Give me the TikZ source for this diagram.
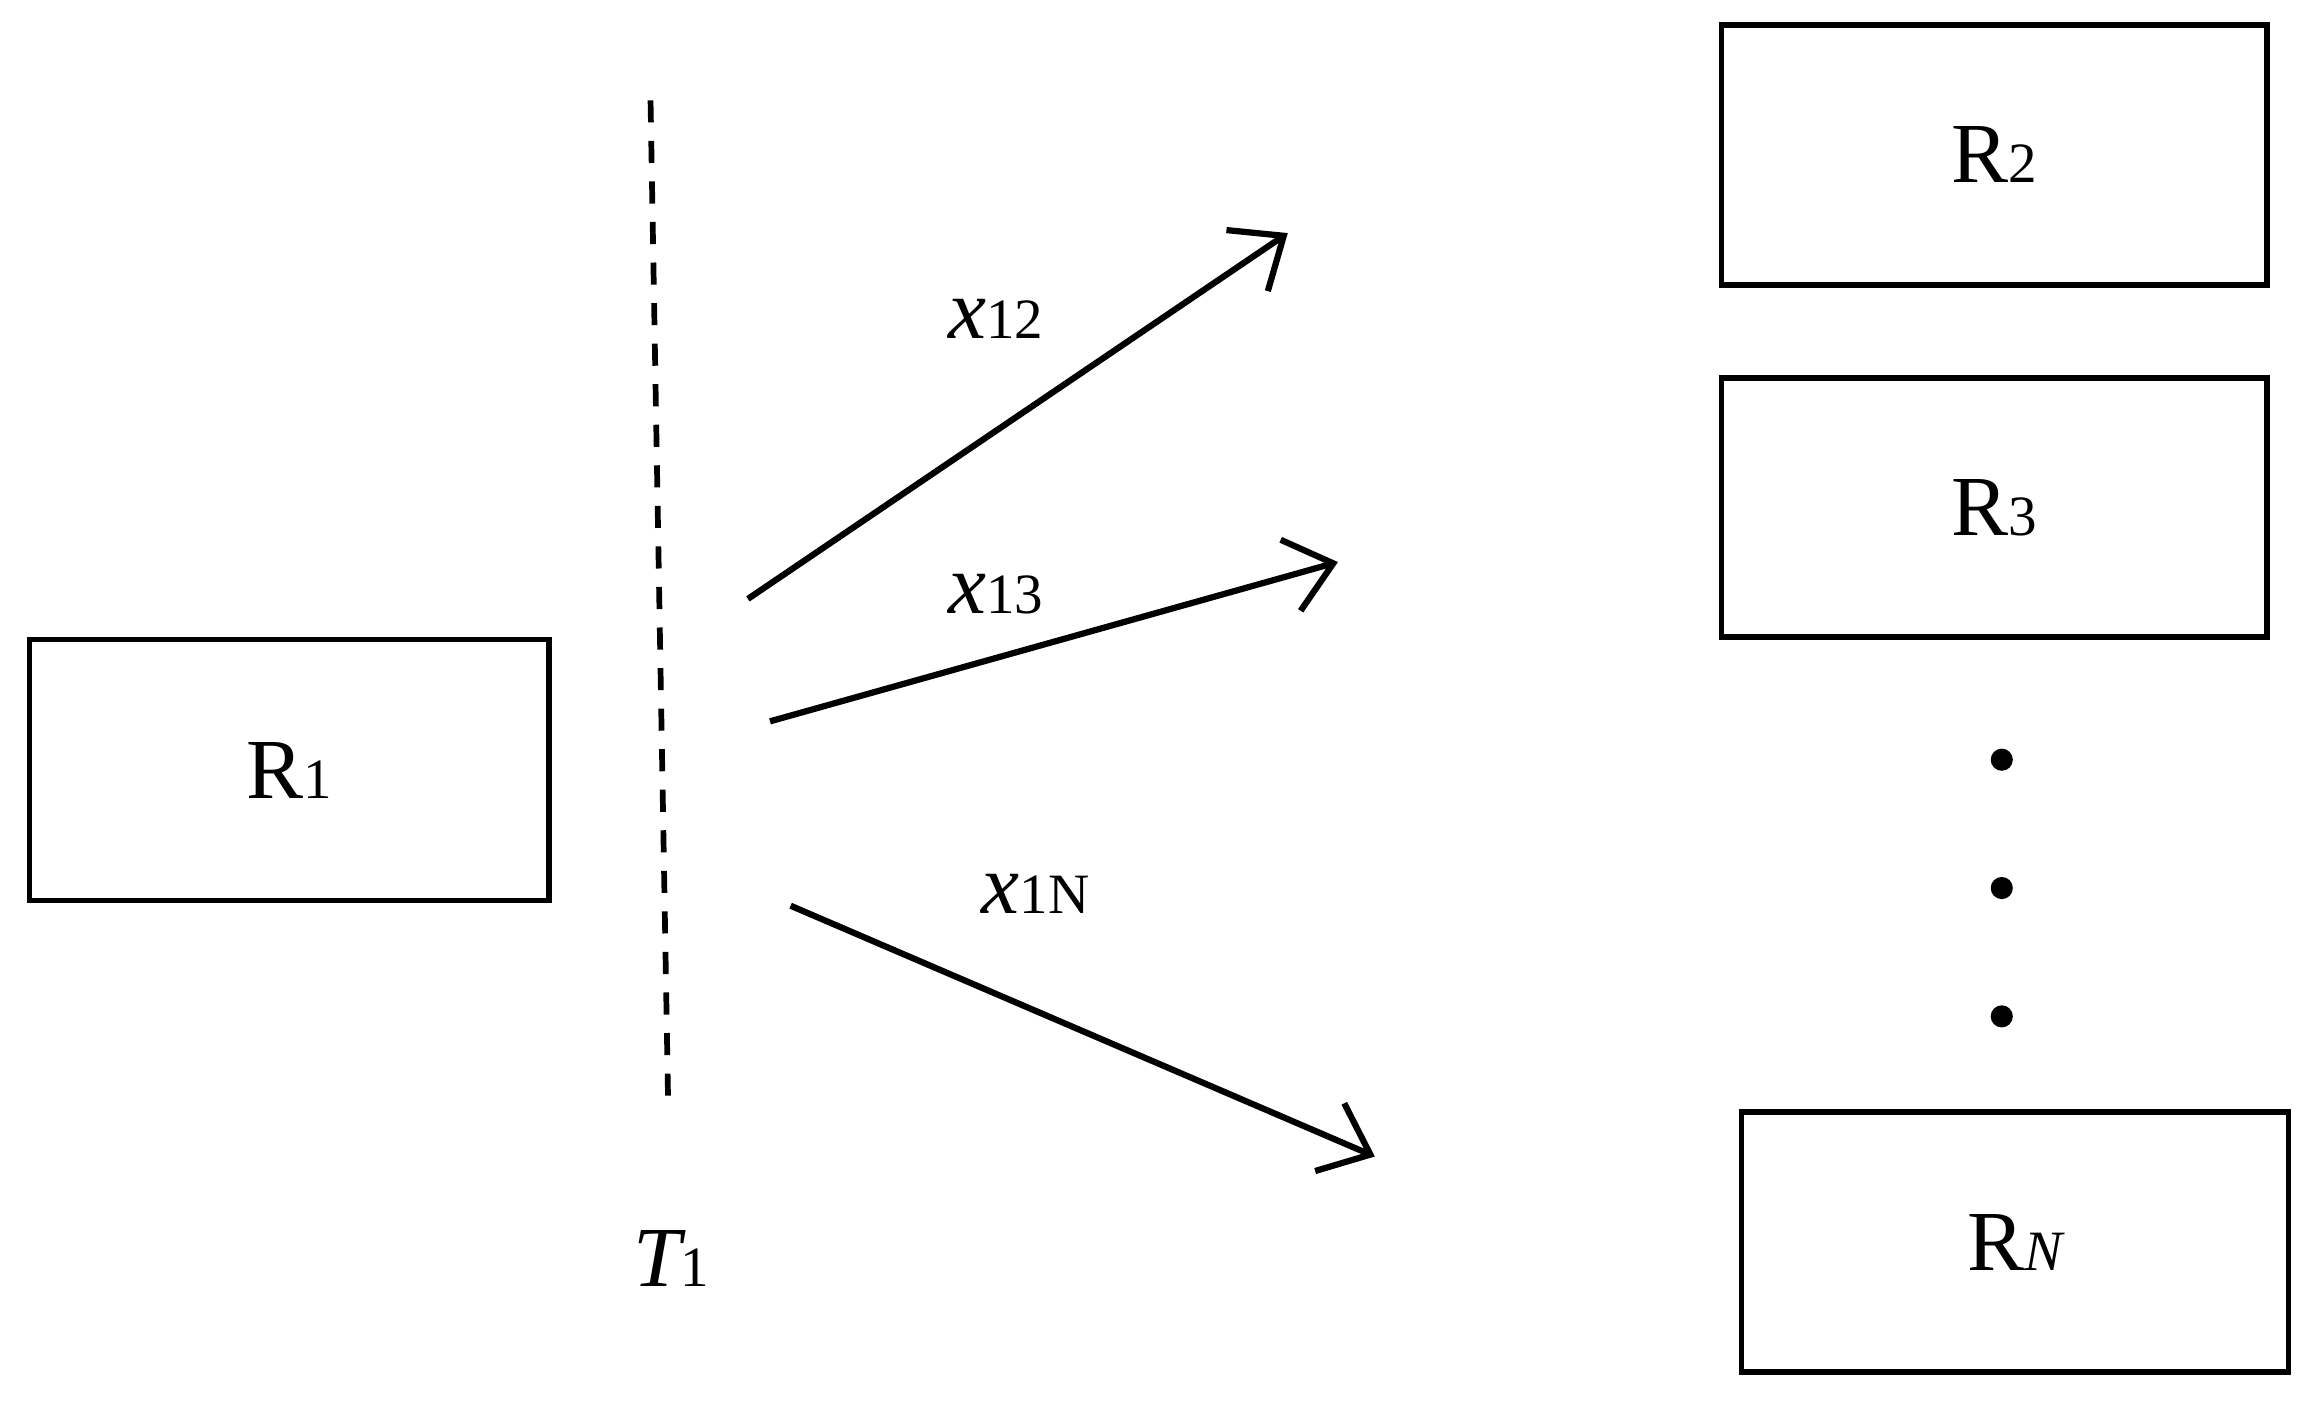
\documentclass[tikz,border=0pt]{standalone}
\usetikzlibrary{arrows.meta}
\usepackage{fontspec}
\setmainfont{Liberation Serif}
\newcommand{\smsub}[1]{{\fontsize{22}{26}\selectfont #1}}
\begin{document}
\begin{tikzpicture}[x=0.02cm,y=-0.02cm,
  box/.style={draw,line width=2.2pt},
  lbl/.style={font=\fontsize{33}{40}\selectfont,inner sep=0pt},
  arr/.style={line width=2.4pt,-{Straight Barb[length=0.6cm,width=1.0cm,line width=2.4pt]}},
  dot/.style={circle,fill,inner sep=0pt,minimum size=0.3cm}]
\useasboundingbox (0,0) rectangle (1568,950);
\node[box,minimum width=7.04cm,minimum height=3.54cm] (r1) at (196,522) {};
\node[lbl] at (r1) {R\smsub{1}};
\node[box,minimum width=7.4cm,minimum height=3.52cm] (r2) at (1352,105) {};
\node[lbl] at (r2) {R\smsub{2}};
\node[box,minimum width=7.4cm,minimum height=3.52cm] (r3) at (1352,344) {};
\node[lbl] at (r3) {R\smsub{3}};
\node[box,minimum width=7.42cm,minimum height=3.52cm] (rn) at (1366,842) {};
\node[lbl] at (rn) {R\smsub{\itshape N}};
\node[dot] (d1) at (1357,515) {};
\node[dot] (d2) at (1357,602) {};
\node[dot] (d3) at (1357,689) {};
\coordinate (t0) at (441,68);
\coordinate (t1) at (453,752);
\draw[line width=2.2pt,dash pattern=on 0.3cm off 0.25cm] (t0) -- (t1);
\node[lbl] (tl) at (455,853) {\itshape T\smsub{\upshape 1}};
\coordinate (a1s) at (507,406); \coordinate (a1e) at (873,158);
\coordinate (a2s) at (522,489); \coordinate (a2e) at (907,381);
\coordinate (a3s) at (536,614); \coordinate (a3e) at (932,784);
\draw[arr] (a1s) -- (a1e);
\draw[arr] (a2s) -- (a2e);
\draw[arr] (a3s) -- (a3e);
\node[lbl] (l1) at (675,216) {\itshape x\smsub{\upshape 12}};
\node[lbl] (l2) at (675,403) {\itshape x\smsub{\upshape 13}};
\node[lbl] (l3) at (702,606) {\itshape x\smsub{\upshape 1N}};
\end{tikzpicture}
\end{document}
